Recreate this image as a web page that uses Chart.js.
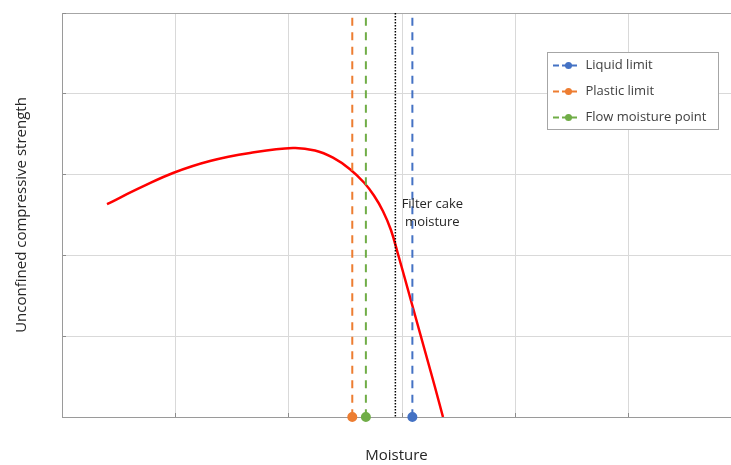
<!DOCTYPE html>
<html>
<head>
<meta charset="utf-8">
<script src="https://cdn.jsdelivr.net/npm/chart.js@4.4.1/dist/chart.umd.min.js"></script>
<style>
  html, body { margin: 0; padding: 0; background: #fff; }
  canvas { display: block; }
</style>
</head>
<body>
<canvas id="myChart" width="731" height="465"></canvas>
<script>
// strength curve (grid units, no scale labels in the original)
const curveX = [0.397, 0.714, 0.979, 1.305, 1.658, 2.037, 2.231, 2.390, 2.540, 2.663, 2.751, 2.831, 2.901, 2.963, 3.025, 3.086, 3.157, 3.228, 3.289, 3.360];
const curveY = [2.636, 2.853, 3.020, 3.168, 3.267, 3.329, 3.298, 3.209, 3.067, 2.902, 2.741, 2.547, 2.314, 2.017, 1.708, 1.399, 1.040, 0.681, 0.371, 0.000];

// vertical limit lines
const limitNames = ['Liquid limit', 'Plastic limit', 'Flow moisture point'];
const limitX = [3.09, 2.56, 2.68];
const limitColors = ['#4472c4', '#ed7d31', '#70ad47'];

// filter cake moisture marker
const filterCakeX = 2.94;
const filterCakeText = ['Filter cake', 'moisture'];
const filterCakeTextY = 2.52;

const xTicks = [0, 1, 2, 3, 4, 5];
const yTicks = [0, 1, 2, 3, 4, 5];
const xMax = 5.9;
const yMax = 5;

const FONT = "'Open Sans', 'Noto Sans', sans-serif";

function legendIcon(color) {
    const c = document.createElement('canvas');
    c.width = 26;
    c.height = 9;
    const g = c.getContext('2d');
    g.strokeStyle = color;
    g.lineWidth = 2;
    g.beginPath();
    g.moveTo(1, 4.5); g.lineTo(7, 4.5);
    g.moveTo(10, 4.5); g.lineTo(25, 4.5);
    g.stroke();
    g.fillStyle = color;
    g.beginPath();
    g.arc(16.5, 4.5, 3.5, 0, Math.PI * 2);
    g.fill();
    return c;
}

const datasets = [];
limitNames.forEach((name, i) => {
    datasets.push({
        label: name,
        data: [{x: limitX[i], y: yMax - 0.06}, {x: limitX[i], y: 0}],
        showLine: true,
        borderColor: limitColors[i],
        backgroundColor: limitColors[i],
        borderWidth: 2,
        borderDash: [8, 6.5],
        pointRadius: [0, 4],
        pointHoverRadius: 0,
        clip: false,
    });
});
datasets.push({
    label: 'Filter cake moisture',
    data: [{x: filterCakeX, y: yMax}, {x: filterCakeX, y: 0}],
    showLine: true,
    borderColor: '#000000',
    borderWidth: 1.5,
    borderDash: [1.5, 1.5],
    pointRadius: 0,
});
datasets.push({
    label: 'Unconfined compressive strength',
    data: curveX.map((x, i) => ({x: x, y: curveY[i]})),
    showLine: true,
    borderColor: '#ff0000',
    borderWidth: 2.5,
    pointRadius: 0,
    tension: 0.4,
});

// legend sits in a white framed box inside the plot
const legendBox = {
    id: 'legendBox',
    afterInit(chart, args, opts) {
        const lg = chart.legend;
        const draw = lg.draw;
        lg.draw = function(area) {
            const pad = lg.options.labels.padding;
            lg.left = opts.x + 4 - pad;
            lg.top = opts.top;
            const ctx = chart.ctx;
            ctx.save();
            ctx.fillStyle = '#ffffff';
            ctx.fillRect(opts.x, opts.y, opts.w, opts.h);
            ctx.strokeStyle = '#a6a6a6';
            ctx.lineWidth = 1;
            ctx.strokeRect(opts.x + 0.5, opts.y + 0.5, opts.w, opts.h);
            ctx.restore();
            draw.call(lg, area);
        };
    }
};

const cakeLabel = {
    id: 'cakeLabel',
    afterDatasetsDraw(chart) {
        const {ctx, scales} = chart;
        const cx = scales.x.getPixelForValue(filterCakeX) + 37;
        const cy = scales.y.getPixelForValue(filterCakeTextY);
        ctx.save();
        ctx.font = '13px ' + FONT;
        ctx.fillStyle = '#262626';
        ctx.textAlign = 'center';
        ctx.textBaseline = 'middle';
        ctx.fillText(filterCakeText[0], cx, cy - 9);
        ctx.fillText(filterCakeText[1], cx, cy + 9);
        ctx.restore();
    }
};

const config = {
    type: 'scatter',
    data: { datasets: datasets },
    options: {
        responsive: false,
        animation: false,
        devicePixelRatio: 1,
        layout: { autoPadding: false, padding: { top: 13, right: 0, left: 0, bottom: 0 } },
        scales: {
            x: {
                type: 'linear',
                min: 0,
                max: xMax,
                afterBuildTicks: scale => { scale.ticks = xTicks.map(v => ({value: v})); },
                afterFit: scale => { scale.height = 48; },
                ticks: { display: false },
                grid: { color: '#d9d9d9', z: -1, drawTicks: true, tickLength: -4, tickColor: '#8c8c8c' },
                border: { color: '#9a9a9a', width: 1 },
                title: {
                    display: true,
                    text: 'Moisture',
                    color: '#262626',
                    font: { family: FONT, size: 15 },
                    padding: { top: 0, bottom: 0 },
                },
            },
            y: {
                type: 'linear',
                min: 0,
                max: yMax,
                afterBuildTicks: scale => { scale.ticks = yTicks.map(v => ({value: v})); },
                afterFit: scale => { scale.width = 62; },
                ticks: { display: false },
                grid: {
                    color: ctx => ctx.tick && ctx.tick.value === yMax ? '#a6a6a6' : '#d9d9d9',
                    z: -1, drawTicks: true, tickLength: -4, tickColor: '#8c8c8c',
                },
                border: { color: '#9a9a9a', width: 1 },
                title: {
                    display: true,
                    text: 'Unconfined compressive strength',
                    color: '#262626',
                    font: { family: FONT, size: 15 },
                    padding: { top: 13, bottom: 0 },
                },
            },
        },
        plugins: {
            legendBox: { x: 547, y: 52, w: 171, h: 77, top: 46 },
            tooltip: { enabled: false },
            legend: {
                position: 'chartArea',
                align: 'start',
                labels: {
                    usePointStyle: true,
                    pointStyleWidth: 28,
                    padding: 13,
                    color: '#404040',
                    font: { family: FONT, size: 13 },
                    generateLabels: chart => limitNames.map((name, i) => ({
                        text: name,
                        pointStyle: legendIcon(limitColors[i]),
                        fillStyle: limitColors[i],
                        strokeStyle: limitColors[i],
                        lineWidth: 0,
                        hidden: false,
                        datasetIndex: i,
                        fontColor: '#404040',
                    })),
                },
            },
        },
    },
    plugins: [legendBox, cakeLabel],
};

const chart = new Chart(document.getElementById('myChart').getContext('2d'), config);
</script>
</body>
</html>
